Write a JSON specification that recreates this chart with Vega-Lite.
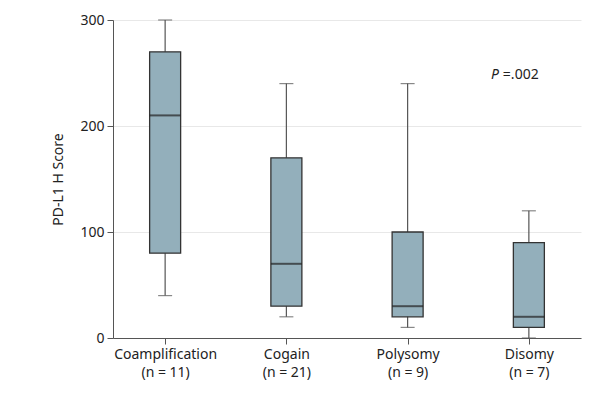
{
  "$schema": "https://vega.github.io/schema/vega-lite/v6.json",
  "autosize": "none",
  "width": 468,
  "height": 318,
  "padding": {"left": 113, "top": 20, "right": 34, "bottom": 63},
  "background": "white",
  "config": {
    "font": "Noto Sans",
    "view": {"stroke": null},
    "axis": {"labelFont": "Noto Sans", "titleFont": "Noto Sans", "labelColor": "#222", "titleColor": "#222", "labelFontSize": 14, "titleFontSize": 14, "titleFontWeight": "normal", "domainColor": "#555", "tickColor": "#555"}
  },
  "data": {"values": [
    {"group": "Coamplification|(n = 11)", "min": 40, "q1": 80, "median": 210, "q3": 270, "max": 300},
    {"group": "Cogain|(n = 21)", "min": 20, "q1": 30, "median": 70, "q3": 170, "max": 240},
    {"group": "Polysomy|(n = 9)", "min": 10, "q1": 20, "median": 30, "q3": 100, "max": 240},
    {"group": "Disomy|(n = 7)", "min": 0, "q1": 10, "median": 20, "q3": 90, "max": 120}
  ]},
  "encoding": {
    "x": {"field": "group", "type": "nominal", "sort": null,
      "scale": {"type": "point", "padding": 0.43},
      "axis": {"title": null, "labelAngle": 0, "labelExpr": "split(datum.label, '|')", "labelPadding": 3, "tickSize": 6, "grid": false, "labelLineHeight": 18}}
  },
  "layer": [
    {"mark": {"type": "rule", "color": "#555", "strokeWidth": 1.2},
     "encoding": {"y": {"field": "min", "type": "quantitative", "scale": {"domain": [0, 300]},
        "axis": {"title": "PD-L1 H Score", "values": [0, 100, 200, 300], "gridColor": "#e8e8e8", "grid": true, "tickSize": 6, "titlePadding": 14, "labelPadding": 3}},
       "y2": {"field": "max"}}},
    {"mark": {"type": "tick", "color": "#555", "size": 14, "thickness": 1.2},
     "encoding": {"y": {"field": "min", "type": "quantitative"}}},
    {"mark": {"type": "tick", "color": "#555", "size": 14, "thickness": 1.2},
     "encoding": {"y": {"field": "max", "type": "quantitative"}}},
    {"mark": {"type": "bar", "width": 31, "fill": "#93afbb", "stroke": "#333", "strokeWidth": 1.3},
     "encoding": {"y": {"field": "q1", "type": "quantitative"}, "y2": {"field": "q3"}}},
    {"mark": {"type": "tick", "color": "#222", "size": 31, "thickness": 2},
     "encoding": {"y": {"field": "median", "type": "quantitative"}}},
    {"data": {"values": [{"group": "Disomy|(n = 7)", "y": 248, "label": "=.002"}]},
     "mark": {"type": "text", "align": "left", "dx": -26, "fontSize": 14, "color": "#222", "font": "Noto Sans"},
     "encoding": {"y": {"field": "y", "type": "quantitative"}, "text": {"field": "label"}}},
    {"data": {"values": [{"group": "Disomy|(n = 7)", "y": 248, "label": "P"}]},
     "mark": {"type": "text", "align": "right", "dx": -30, "fontSize": 14, "fontStyle": "italic", "color": "#222", "font": "Noto Sans"},
     "encoding": {"y": {"field": "y", "type": "quantitative"}, "text": {"field": "label"}}}
  ]
}
